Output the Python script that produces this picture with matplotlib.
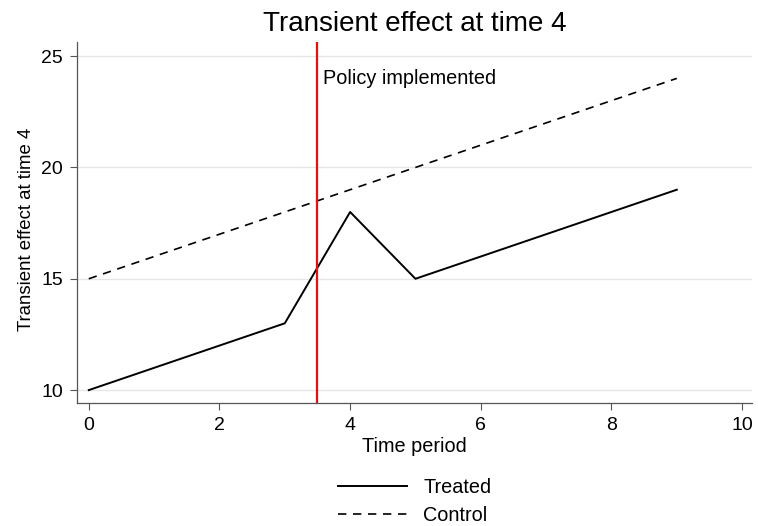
import matplotlib
matplotlib.use("Agg")
import matplotlib.pyplot as plt

plt.rcParams['font.family'] = ['Liberation Sans', 'DejaVu Sans']

time = [0, 1, 2, 3, 4, 5, 6, 7, 8, 9]
treated = [10, 11, 12, 13, 18, 15, 16, 17, 18, 19]
control = [15, 16, 17, 18, 19, 20, 21, 22, 23, 24]
policy_time = 3.5
xticks = [0, 2, 4, 6, 8, 10]
yticks = [10, 15, 20, 25]

fig = plt.figure(figsize=(7.58, 5.26), dpi=100)
ax = fig.add_axes([0.1016, 0.2338, 0.8904, 0.6862])

for yt in yticks:
    ax.axhline(yt, color='#e6e6e6', lw=1.0, zorder=0)

l1, = ax.plot(time, treated, color='black', lw=1.4, label='Treated')
l2, = ax.plot(time, control, color='black', lw=1.2, ls=(0, (5, 4)), label='Control')
ax.axvline(policy_time, color='#e8100c', lw=1.6)
ax.text(3.58, 24.0, 'Policy implemented', fontsize=14.3, va='center', ha='left')

ax.set_xlim(-0.18, 10.15)
ax.set_ylim(9.42, 25.63)
ax.set_xticks(xticks)
ax.set_yticks(yticks)
ax.tick_params(direction='out', length=5, width=0.8, colors='#555555', labelcolor='black', labelsize=14, pad=5)
for s in ['top', 'right']:
    ax.spines[s].set_visible(False)
for s in ['left', 'bottom']:
    ax.spines[s].set_color('#555555')
    ax.spines[s].set_linewidth(0.9)

ax.set_title('Transient effect at time 4', fontsize=20, pad=8)
ax.set_xlabel('Time period', fontsize=14.3, labelpad=2)
ax.set_ylabel('Transient effect at time 4', fontsize=13.4)
ax.yaxis.set_label_coords(-0.0616, 0.48)

fig.legend(handles=[l1, l2], loc='center', bbox_to_anchor=(0.547, 0.047), ncol=1,
           frameon=False, fontsize=14.3, handlelength=3.5, labelspacing=0.45, handletextpad=0.8)

fig.savefig('out.png', dpi=100)
